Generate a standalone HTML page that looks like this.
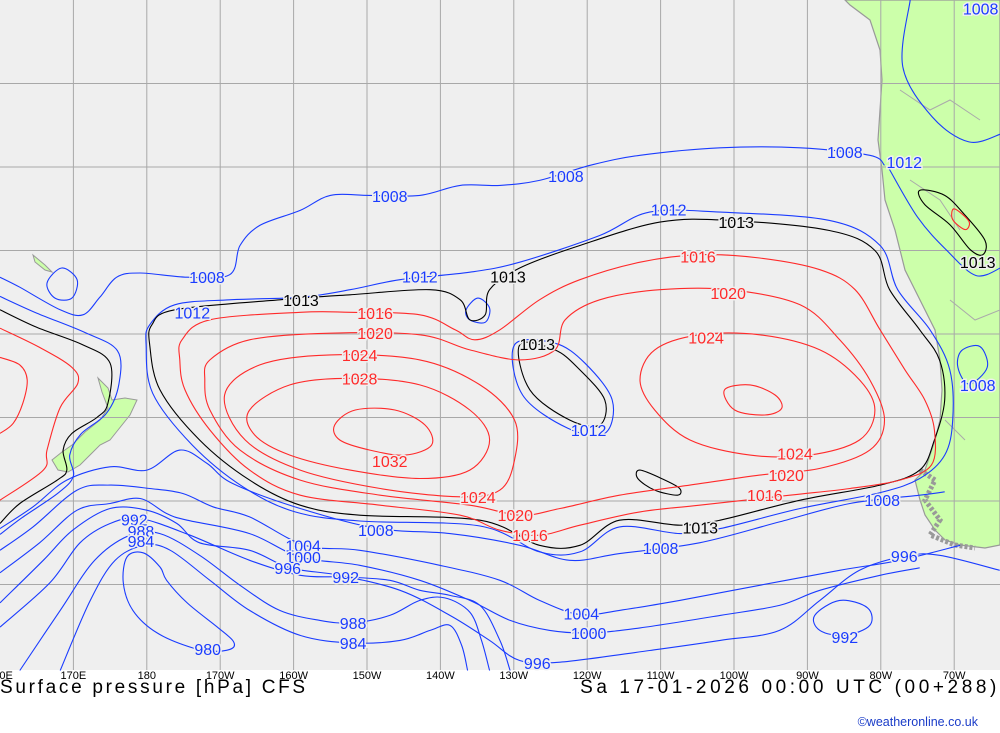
<!DOCTYPE html>
<html><head><meta charset="utf-8">
<style>
body{margin:0;background:#fff;width:1000px;height:733px;overflow:hidden;font-family:"Liberation Sans",sans-serif}
#wrap{position:relative;width:1000px;height:733px}
svg{position:absolute;left:0;top:0}
.t{position:absolute;font-family:"Liberation Sans",sans-serif;white-space:nowrap}
</style></head>
<body>
<div id="wrap">
<svg id="map" width="1000" height="733">
<rect x="0" y="0" width="1000" height="670" fill="#efefef"/>
<g>
<path d="M845,0 L1000,0 L1000,545 L985,548 L960,545 L945,540 L935,530 L925,515 L920,500 L915,480 L925,470 L930,455 L935,440 L940,420 L942,390 L940,360 L935,330 L920,300 L905,270 L895,230 L885,200 L882,170 L878,140 L880,110 L882,80 L880,50 L870,20 L850,5 Z" fill="#ccffaa" stroke="#999" stroke-width="1.2"/>
<path d="M920,470 L935,480 L925,500 L940,520 L930,535 L955,545 L975,548" fill="none" stroke="#999" stroke-width="5" stroke-dasharray="3 2"/>
<path d="M900,90 L930,110 L950,100 L980,120 M910,180 L940,200 L960,230 M950,300 L975,320 L1000,310 M945,420 L965,440" fill="none" stroke="#aaa" stroke-width="1"/>
</g>
<g>
<path d="M98,378 L108,388 L112,400 L125,398 L137,400 L130,415 L118,430 L110,440 L100,445 L90,455 L80,465 L68,472 L58,470 L52,460 L62,452 L72,445 L85,432 L100,420 L108,408 L102,392 Z" fill="#ccffaa" stroke="#999" stroke-width="1"/>
<path d="M33,255 L45,265 L52,272 L45,270 L35,262 Z" fill="#ccffaa" stroke="#999" stroke-width="1"/>
</g>
<g id="grid"></g>
<g id="contours"></g>
<g id="labels"></g>
<g id="axis"></g>
</svg>
<div class="t" style="left:0;top:677px;font-size:19px;letter-spacing:2.7px;color:#000">Surface pressure [hPa] CFS</div>
<div class="t" style="right:0px;top:677px;font-size:19px;letter-spacing:3.6px;color:#000">Sa 17-01-2026 00:00 UTC (00+288)</div>
<div class="t" style="right:22px;top:715px;font-size:12.5px;color:#1a3cc8">©weatheronline.co.uk</div>
</div>
<script>
// axis functions: lon in degrees east, lat in degrees south
function X(lon){return (lon-160)*7.34;}
function Y(lat){return (lat-10)*8.35;}
const gridLons=[170,180,190,200,210,220,230,240,250,260,270,280,290];
const gridLats=[20,30,40,50,60,70,80];
const tickLons=[160,170,180,190,200,210,220,230,240,250,260,270,280,290];
const tickLabels=["160E","170E","180","170W","160W","150W","140W","130W","120W","110W","100W","90W","80W","70W"];

const black1013=[[180.4,51.3],[180.7,48.9],[183.8,47.1],[198.1,45.9],[207.7,45.3],[218.6,44.7],[222.7,45.9],[224,48.3],[226.1,47.7],[226.7,44.7],[230.8,42.1],[239,39.4],[249.9,36.6],[259.4,36.4],[273,37.6],[279.2,40],[281.2,44.7],[285.3,49.5],[288,53.1],[288.7,57.9],[287.3,62.7],[285.3,66.3],[279.9,68.1],[269,69.9],[258.1,72.3],[252.6,72.9],[244.4,72.3],[239,75.3],[233.5,75.3],[225.4,72.3],[209,71.7],[200.9,70.5],[194,67.5],[187.2,62.7],[181.8,56.7]];
const black1013West=[[160,47.1],[165,49.2],[171.3,51.3],[175,53.5],[174.7,58.3],[173.2,60],[169.8,61.9],[168.6,63.9],[169.1,66.3],[167.8,67.5],[162.7,70.3],[160,72.7]];
const black1013Oval=[[230.8,51.3],[232.2,56.7],[237.6,60.3],[241.7,60.9],[242.4,57.9],[239,54.3],[235.6,51.9]];
const black1013Small=[[247.2,66.3],[250.6,67.5],[252.6,68.5],[252.3,69.3],[249.2,68.7],[246.9,67.3]];
const black1013Land=[[285.3,32.8],[288.7,33.4],[291.5,35.8],[294.2,38.8],[293.9,40.5],[292.2,39.9],[289.4,36.9],[286,34.5]];

const blue1012=[[179.9,51.3],[180.4,48.9],[183.8,46.5],[191.3,45.9],[200.9,45.6],[207.7,44.7],[214.5,43.5],[224,42.6],[230.8,41.4],[241.7,38.2],[248.5,35.4],[258.1,35.4],[273,36.4],[279.9,39.4],[282.3,44.7],[286.7,49.5],[289.4,54.3],[289.8,60.3],[288.7,64.5],[285.3,67.3],[279.9,69],[269,70.9],[258.1,73.3],[252.6,73.9],[244.4,73.1],[239,76.1],[233.5,76.1],[225.4,73],[209,72.4],[200.2,71.3],[193.1,68.3],[186.2,63.3],[180.8,57.1]];
const blue1012Loop=[[223.5,47.1],[225.1,45.7],[226.7,46.9],[226.1,48.6],[224,48.3]];
const blue1012Oval=[[230.1,51.3],[231.2,57.3],[237.4,61.3],[242.4,61.9],[243.4,57.9],[239.7,53.5],[235.6,51.1]];
const blue1012West=[[160,45.5],[165,47.5],[171.5,49.8],[176,52],[176.2,56],[174.5,59.5],[171,62],[169.5,64.5],[170,67],[168,69],[163,72],[160,74]];
const blue1008North=[[160,43.2],[162.7,44.4],[168.2,47.1],[171.3,47.7],[173.6,45.6],[175.9,43.2],[179.1,42.7],[185.5,43.2],[191.3,42.9],[192.7,39.4],[195.4,37],[200.9,35.2],[205,33.4],[210.4,33.4],[217.2,33.4],[222.7,32.2],[228.1,32.2],[233.5,31.6],[240.4,29.8],[247.2,28.6],[258.1,27.7],[269,27.7],[278.5,28.6],[280.5,29.8]];
const blue1008Loop=[[166.4,43.9],[168.4,42.1],[170.5,43.5],[169.8,45.7],[167.5,45.7]];
const blue1008South=[[160,73.3],[164.5,70.7],[169.1,67.5],[175,65.9],[180,66.3],[184.5,63.9],[188.2,65.5],[191.7,67.9],[200.9,70.9],[211.5,73.3],[221.3,73.9],[230.8,75.3],[237.6,77.1],[244.4,76.3],[255.3,75],[266.2,72.5],[275.8,70.3],[285.3,69.3],[288.7,68.9]];
const blue1004=[[160,75.9],[164.5,73.1],[170.5,68.7],[175,68.1],[180.4,68.5],[184.9,69.1],[189,70.7],[194,71.9],[201.5,75.3],[209,75.9],[219.9,77.7],[228.1,79.5],[233.5,81.9],[239,83.6],[244.4,83.1],[252.6,81.9],[263.5,80.1],[274.4,78.3],[282.6,77.1],[290.8,75.3]];
const blue1000=[[160,78.6],[165.4,75],[170.5,71.1],[175,70.3],[179.1,69.7],[182.7,71.5],[185.5,72.3],[194,73.9],[200.9,76.7],[209,77.7],[217.2,79.5],[224,81.9],[229.5,84.3],[234.9,85.5],[240.4,85.8],[247.2,85.2],[258.1,83.7],[266.2,82.5],[271.7,80.7],[279.9,78.9],[285.3,78]];
const blue996=[[160,82.2],[165.9,77.1],[169.9,73.5],[175,70.9],[180,71.1],[184.1,72.7],[187.2,75],[194,75.9],[199.5,78],[206.3,78.9],[214.5,80.7],[221.3,83.7],[226.7,86.7],[230.8,89.1],[236.3,89.3],[248.5,87.9],[258.1,86.7],[266.2,85.5],[271.7,81.9],[277.1,78.3],[283.3,76.6],[288,76.5],[296.2,78.3]];
const blue992=[[160,85.1],[166.8,79.8],[170.9,75],[175,72.7],[179.1,72.1],[185.9,74.1],[194,77.1],[200.9,78.9],[207,79.1],[213.1,79.5],[217.2,80.7],[221.3,81.3],[225.4,82.5],[228.1,86.7],[229.5,90.3]];
const blue988=[[162.7,90.3],[168.2,83.1],[172.9,77.1],[177.7,74.1],[181.8,73.9],[187.2,76.5],[192.7,80.1],[198.1,83.1],[203.6,84.3],[207.9,84.6],[213.1,83.7],[217.2,81.9],[220.6,81.6],[224,83.3],[225.6,86.7],[226.7,90.3]];
const blue984=[[168.2,90.3],[172.3,81.9],[175.7,77.1],[179.7,75.3],[183.2,75.9],[188.6,79.5],[194,83.1],[200.9,86.1],[207.9,87],[214.5,86.7],[218.6,85.5],[221.3,84.9],[222.9,87.3],[223.7,90.3]];
const blue980=[[177.3,76.7],[179.5,76.2],[181.8,77.9],[182.7,79.5],[185.5,82.2],[189.6,85.1],[191.7,86.7],[191.7,87.6],[189.6,88],[186.3,87.6],[181.4,85.8],[178.1,83.1],[176.8,79.8]];
const blue992East=[[271,83.7],[274.4,81.9],[278.2,82.8],[278.5,84.9],[275.1,86.1],[271.7,85.5]];
const blueLand1=[[284,10],[283,18],[287,24],[292,27],[296.5,26]];
const blueLand2=[[281,30],[285,36],[289,40],[293,43],[296.5,42]];
const blueLand3=[[291,52],[293.5,51.5],[294.5,54],[292,56],[290.5,54]];

const red1016West=[[160,49.3],[165.4,51.6],[169.8,54],[170.6,55.9],[168.2,58.8],[166.4,63.9],[165.9,66.3],[160,69.9]];
const red1020West=[[160,52.8],[162.7,53.7],[163.7,55.5],[163.1,58.3],[161.8,60.7],[160,61.9]];
const red1016=[[184.8,50.7],[188.6,48.3],[200.9,47.4],[207.7,47.4],[217.2,47.7],[222,49.5],[224.7,50.7],[228.1,49.5],[233.5,45.9],[239,43.5],[247.2,41.4],[255.3,40.5],[263.5,40.9],[271.7,42.3],[276.5,44.7],[279.9,49.5],[283.3,54.3],[286,57.9],[287.3,61.5],[286.9,65.7],[282.6,67.5],[275.8,68.5],[267.6,69.3],[255.3,70.5],[247.2,71.3],[239,72.9],[233.5,74.1],[228.1,73.5],[222.7,71.7],[211.8,70.5],[200.9,69.3],[194,66.3],[188.6,61.5],[185.2,56.7],[184.5,53.1]];
const red1020=[[188.6,53.1],[194,50.7],[205,49.9],[217.2,50.1],[224,51.9],[230.8,53.1],[235.6,51.9],[237,48.3],[241.7,45.9],[249.9,44.7],[259.4,44.7],[269,46.5],[274.4,50.7],[278.5,55.5],[280.5,60.3],[278.5,63.9],[271.7,66.1],[263.5,66.9],[254,68.1],[244.4,69.3],[236.3,70.9],[230.8,71.7],[224,70.5],[211.8,69.3],[200.9,67.5],[192.7,63.9],[188.6,59.1],[187.9,55.5]];
const red1024Left=[[190.6,57.3],[195.4,53.7],[205,52.5],[217.2,53.1],[225.4,56.1],[230.1,60.3],[230.1,65.1],[228.1,68.7],[222.7,69.5],[211.8,68.5],[200.9,66.3],[193.4,62.7]];
const red1024Right=[[249.2,51.9],[255.3,50.1],[263.5,50.1],[271.7,51.9],[277.1,55.5],[279.2,59.1],[277.1,62.7],[270.3,64.5],[262.2,64.5],[254,62.7],[249.2,59.1],[247.2,55.5]];
const red1028Left=[[194,59.1],[199.5,56.1],[207.7,55.3],[217.2,56.1],[224,59.1],[226.7,62.7],[224,66.3],[217.2,67.3],[207.7,66.3],[199.5,64.5],[194.7,62.1]];
const red1028Right=[[258.7,56.7],[262.2,56.1],[265.6,57.3],[266.5,58.9],[264.2,59.7],[260.1,59.1]];
const red1032=[[205.6,60.9],[208.4,59.1],[213.8,59.1],[217.9,60.9],[218.8,63.3],[215.2,64.5],[210.4,63.9],[206.3,62.7]];
const redLand=[[290,35],[292,36.5],[291.5,37.5],[289.8,36.3]];

const labelText=["1008","1008","1008","1008","1008","1008","1008","1008","1008","1012","1012","1012","1012","1012","1004","1004","1000","1000","996","996","996","992","992","992","988","988","984","984","980","1013","1013","1013","1013","1013","1013","1016","1016","1016","1016","1020","1020","1020","1020","1024","1024","1024","1024","1028","1032"];
const labelLon=[275.1,237.1,213.1,188.2,211.2,250,280.2,293.6,293.2,251.1,217.2,186.2,240.2,283.2,201.3,239.2,201.3,240.2,199.2,233.2,283.2,178.3,207.1,275.1,179.2,208.1,179.2,208.1,188.3,201,229.2,233.2,260.3,255.4,293.2,211.1,255.1,232.2,264.2,211.1,259.2,230.2,267.1,209,256.2,225.1,268.3,209,213.1];
const labelLat=[28.2,31.1,33.5,43.2,73.5,75.6,69.9,11,56.1,35.1,43.1,47.4,61.5,29.4,75.3,83.5,76.7,85.8,78,89.4,76.6,72.2,79.1,86.3,73.6,84.6,74.8,87,87.7,45.9,43.1,51.2,36.6,73.2,41.4,47.5,40.7,74.1,69.3,49.9,45.1,71.7,66.9,52.5,50.4,69.5,64.3,55.3,65.2];
const labelColor=["b","b","b","b","b","b","b","b","b","b","b","b","b","b","b","b","b","b","b","b","b","b","b","b","b","b","b","b","b","k","k","k","k","k","k","r","r","r","r","r","r","r","r","r","r","r","r","r","r"];

const NS="http://www.w3.org/2000/svg";
const COL={b:"#1a3cff",k:"#000000",r:"#ff2a2a"};
function pathFrom(pts,closed){
  const p=pts.map(d=>[X(d[0]),Y(d[1])]);
  const n=p.length;
  let s="M"+p[0][0].toFixed(1)+","+p[0][1].toFixed(1);
  const seg=closed?n:n-1;
  for(let i=0;i<seg;i++){
    const p0=p[closed?(i-1+n)%n:Math.max(i-1,0)];
    const p1=p[i],p2=p[(i+1)%n];
    const p3=p[closed?(i+2)%n:Math.min(i+2,n-1)];
    const c1=[p1[0]+(p2[0]-p0[0])/6,p1[1]+(p2[1]-p0[1])/6];
    const c2=[p2[0]-(p3[0]-p1[0])/6,p2[1]-(p3[1]-p1[1])/6];
    s+="C"+c1[0].toFixed(1)+","+c1[1].toFixed(1)+" "+c2[0].toFixed(1)+","+c2[1].toFixed(1)+" "+p2[0].toFixed(1)+","+p2[1].toFixed(1);
  }
  if(closed)s+="Z";
  return s;
}
const grid=document.getElementById('grid');
gridLons.forEach(function(l){
  const ln=document.createElementNS(NS,'line');
  
  
  ln.setAttribute('x1',X(l));ln.setAttribute('x2',X(l));ln.setAttribute('y1',0);ln.setAttribute('y2',670);
  ln.setAttribute('stroke','#a8a8a8');ln.setAttribute('stroke-width','1');
  grid.appendChild(ln);
});
gridLats.forEach(function(l){
  const ln=document.createElementNS(NS,'line');
  
  
  ln.setAttribute('x1',0);ln.setAttribute('x2',1000);ln.setAttribute('y1',Y(l));ln.setAttribute('y2',Y(l));
  ln.setAttribute('stroke','#a8a8a8');ln.setAttribute('stroke-width','1');
  grid.appendChild(ln);
});
const cg=document.getElementById('contours');
function draw(pts,c,closed,name){
  const el=document.createElementNS(NS,'path');
  
  
  el.setAttribute('d',pathFrom(pts,closed));
  el.setAttribute('fill','none');
  el.setAttribute('stroke',COL[c]);
  el.setAttribute('stroke-width','1.1');
  cg.appendChild(el);
}
draw(blue1008North,'b',false,'isobar-1008-north');
draw(blue1008Loop,'b',true,'isobar-1008-loop');
draw(blue1008South,'b',false,'isobar-1008-south');
draw(blue1012,'b',true,'isobar-1012');
draw(blue1012Loop,'b',true,'isobar-1012-loop');
draw(blue1012Oval,'b',true,'isobar-1012-oval');
draw(blue1012West,'b',false,'isobar-1012-west');
draw(blue1004,'b',false,'isobar-1004');
draw(blue1000,'b',false,'isobar-1000');
draw(blue996,'b',false,'isobar-996');
draw(blue992,'b',false,'isobar-992');
draw(blue988,'b',false,'isobar-988');
draw(blue984,'b',false,'isobar-984');
draw(blue980,'b',true,'isobar-980');
draw(blue992East,'b',true,'isobar-992-east');
draw(blueLand1,'b',false,'isobar-land-1');
draw(blueLand2,'b',false,'isobar-land-2');
draw(blueLand3,'b',true,'isobar-land-3');
draw(black1013,'k',true,'isobar-1013');
draw(black1013West,'k',false,'isobar-1013-west');
draw(black1013Oval,'k',true,'isobar-1013-oval');
draw(black1013Small,'k',true,'isobar-1013-small');
draw(black1013Land,'k',true,'isobar-1013-land');
draw(red1016West,'r',false,'isobar-1016-west');
draw(red1020West,'r',false,'isobar-1020-west');
draw(red1016,'r',true,'isobar-1016');
draw(red1020,'r',true,'isobar-1020');
draw(red1024Left,'r',true,'isobar-1024-west-high');
draw(red1024Right,'r',true,'isobar-1024-east-high');
draw(red1028Left,'r',true,'isobar-1028-west-high');
draw(red1028Right,'r',true,'isobar-1028-east-high');
draw(red1032,'r',true,'isobar-1032');
draw(redLand,'r',true,'isobar-land-red');

const lg=document.getElementById('labels');
labelText.forEach(function(t,i){
  const tx=document.createElementNS(NS,'text');
  
  
  tx.setAttribute('x',X(labelLon[i]));
  tx.setAttribute('y',Y(labelLat[i])+6);
  tx.setAttribute('text-anchor','middle');
  tx.setAttribute('font-size','16');
  tx.setAttribute('font-family','Liberation Sans, sans-serif');
  tx.setAttribute('fill',COL[labelColor[i]]);
  tx.setAttribute('stroke','#efefef');
  tx.setAttribute('stroke-width','3');
  tx.setAttribute('paint-order','stroke');
  tx.textContent=t;
  lg.appendChild(tx);
});
const ax=document.getElementById('axis');
tickLons.forEach(function(l,i){
  const tx=document.createElementNS(NS,'text');
  
  
  tx.setAttribute('x',X(l));
  tx.setAttribute('y',679);
  tx.setAttribute('text-anchor','middle');
  tx.setAttribute('font-size','11');
  tx.setAttribute('font-family','Liberation Sans, sans-serif');
  tx.setAttribute('fill','#000');
  tx.textContent=tickLabels[i];
  ax.appendChild(tx);
});
</script>
</body></html>
